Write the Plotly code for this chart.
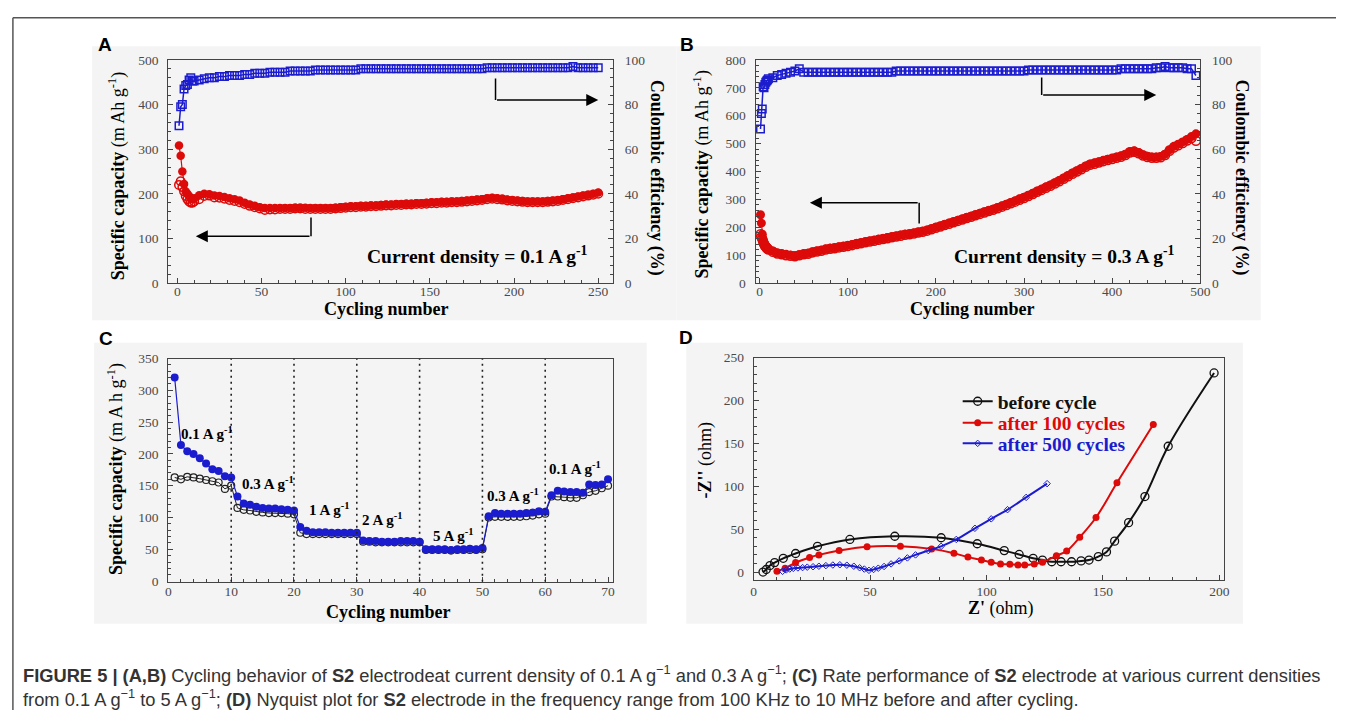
import plotly.graph_objects as go

W, H = 1346, 718
RED = "#dd0a0a"
BLUE = "#1c1ccf"
SERIF = "Liberation Serif"
SANS = "Liberation Sans"

# ---------------- Panel A data (0.1 A/g, 250 cycles) ----------------
redA_dis_first = [308, 285, 250, 222, 205, 200, 195, 190, 188, 190]
redA_cha_first = [220, 228, 215, 205, 195, 188, 183, 180, 180, 183]
ceA_first = [70.5, 79, 80, 87, 88.5, 89, 91, 92, 90.5, 90.5]
redA_dis_rest = [197, 200, 199, 196, 195, 193, 190, 188, 185, 180,
                 176, 173, 170, 168, 168, 168, 168, 168, 168, 169,
                 169, 169, 168, 168, 168, 168, 168, 169, 170, 171,
                 172, 172, 173, 173, 174, 174, 175, 176, 176, 177,
                 177, 178, 178, 179, 179, 180, 181, 181, 182, 182,
                 183, 183, 184, 185, 186, 187, 188, 190, 191, 190,
                 189, 187, 186, 185, 184, 183, 183, 183, 183, 184,
                 185, 186, 188, 190, 192, 194, 196, 198, 200, 203]
redA_cha_rest = [188, 195, 196, 192, 191, 189, 186, 184, 181, 177,
                 173, 170, 167, 164, 165, 165, 166, 166, 166, 167,
                 167, 166, 166, 166, 166, 166, 166, 167, 168, 169,
                 170, 170, 171, 171, 172, 172, 173, 174, 174, 175,
                 175, 176, 176, 177, 177, 178, 179, 179, 180, 180,
                 181, 181, 182, 183, 184, 185, 186, 188, 189, 188,
                 187, 185, 184, 183, 182, 181, 181, 181, 181, 182,
                 183, 184, 186, 188, 190, 192, 194, 196, 198, 200]
ceA_rest = [91, 91.5, 92, 92, 92.5, 92.5, 93, 93, 93, 93.5,
            93.5, 94, 94, 94, 94.5, 94.5, 94.5, 94.5, 95, 95,
            95, 95, 95, 95.5, 95.5, 95.5, 95.5, 95.5, 95.5, 95.5,
            95.5, 95.5, 96, 96, 96, 96, 96, 96, 96, 96,
            96, 96, 96, 96, 96, 96, 96, 96, 96, 96,
            96, 96, 96, 96, 96, 96, 96, 96.5, 96.5, 96.5,
            96.5, 96.5, 96.5, 96.5, 96.5, 96.5, 96.5, 96.5, 96.5, 96.5,
            96.5, 96.5, 96.5, 96.5, 97, 96.5, 96.5, 96.5, 96.5, 96.5]
cycA = list(range(1, 11)) + list(range(13, 13 + 3 * len(redA_dis_rest), 3))

# ---------------- Panel B data (0.3 A/g, 500 cycles) ----------------
redB_dis_first = [245, 215, 175, 155, 145, 138, 133, 128, 125, 122]
redB_cha_first = [175, 165, 158, 148, 140, 134, 130, 126, 123, 120]
ceB_first = [69, 76, 78, 88, 87.5, 89, 90, 90.5, 91, 91.5]
redB_dis_rest = [115, 108, 105, 103, 100, 98, 102, 105, 107, 112,
                 115, 118, 122, 125, 127, 130, 132, 135, 138, 142,
                 145, 148, 151, 154, 157, 160, 163, 166, 169, 172,
                 175, 177, 180, 183, 186, 190, 195, 200, 205, 210,
                 215, 220, 225, 230, 235, 240, 245, 250, 256, 260,
                 265, 271, 277, 283, 289, 295, 302, 308, 315, 322,
                 330, 337, 345, 352, 360, 368, 377, 386, 395, 403,
                 411, 420, 427, 431, 435, 440, 444, 448, 452, 456,
                 462, 472, 474, 468, 460, 455, 452, 452, 454, 462,
                 478, 490, 498, 506, 515, 525, 535]
redB_cha_rest = [112, 106, 103, 100, 98, 96, 100, 103, 105, 110,
                 113, 116, 120, 123, 125, 128, 130, 133, 136, 140,
                 143, 146, 149, 152, 155, 158, 161, 164, 167, 170,
                 173, 175, 178, 181, 184, 188, 193, 198, 203, 208,
                 213, 218, 223, 228, 233, 238, 243, 248, 253, 258,
                 263, 268, 274, 280, 286, 292, 299, 305, 312, 319,
                 327, 334, 342, 349, 357, 365, 374, 383, 392, 400,
                 408, 417, 424, 428, 432, 437, 441, 445, 449, 453,
                 459, 468, 471, 465, 457, 452, 449, 449, 451, 459,
                 474, 486, 494, 502, 511, 520, 510]
ceB_rest = [92, 93, 93.5, 94, 94.5, 95, 96, 94.5, 94.5, 94.5,
            94.5, 94.5, 94.5, 94.5, 94.5, 94.5, 94.5, 94.5, 94.5, 94.5,
            94.5, 94.5, 94.5, 94.5, 94.5, 94.5, 94.5, 94.5, 95, 95,
            95, 95, 95, 95, 95, 95, 95, 95, 95, 95,
            95, 95, 95, 95, 95, 95, 95, 95, 95, 95,
            95, 95, 95, 95, 95, 95, 95, 95, 95.5, 95.5,
            95.5, 95.5, 95.5, 95.5, 95.5, 95.5, 95.5, 95.5, 95.5, 95.5,
            95.5, 95.5, 95.5, 95.5, 95.5, 95.5, 95.5, 95.5, 95.5, 96,
            96, 96, 96, 96, 96, 96, 96, 96.5, 96.5, 97,
            96.5, 96.5, 96.5, 96.5, 96, 96, 93]
cycB = list(range(1, 11)) + list(range(15, 15 + 5 * len(redB_dis_rest), 5))

# ---------------- Panel C data (rate performance) ----------------
cycC = list(range(1, 71))
capC_dis = [320, 214, 204, 200, 193, 185, 176, 173, 165, 163,
            133, 122, 120, 117, 115, 114, 114, 113, 112, 111,
            85, 79, 77, 77, 77, 76, 76, 76, 76, 76,
            64, 63, 63, 62, 62, 62, 63, 63, 63, 62,
            50, 50, 50, 50, 49, 50, 50, 51, 50, 52,
            102, 107, 106, 106, 106, 106, 107, 108, 110, 109,
            135, 142, 141, 140, 140, 139, 152, 151, 152, 160]
capC_cha = [163, 160, 164, 163, 161, 159, 157, 155, 145, 150,
            115, 112, 111, 109, 108, 107, 107, 107, 106, 105,
            76, 74, 74, 74, 74, 74, 74, 74, 74, 74,
            62, 62, 61, 61, 61, 61, 61, 61, 61, 61,
            49, 49, 49, 49, 48, 49, 49, 49, 49, 50,
            100, 101, 101, 101, 101, 101, 102, 103, 105, 106,
            133, 133, 132, 131, 131, 135, 140, 142, 146, 150]
rate_labels = ["0.1 A g<sup>-1</sup>", "0.3 A g<sup>-1</sup>", "1 A g<sup>-1</sup>", "2 A g<sup>-1</sup>",
               "5 A g<sup>-1</sup>", "0.3 A g<sup>-1</sup>", "0.1 A g<sup>-1</sup>"]
rate_label_x = [6.2, 15.9, 25.5, 34.0, 45.3, 54.9, 64.8]
rate_label_y = [233, 155, 113, 97, 73, 135, 178]
rate_bounds = [10, 20, 30, 40, 50, 60]

# ---------------- Panel D data (Nyquist) ----------------
zre_before = [4, 5.4, 7, 9, 12.7, 18, 27.4, 41.3, 60.6, 80.5, 96, 107.6, 114, 120, 124, 128, 132,
              136.5, 140.6, 144, 148, 151.5, 155, 161, 168, 178, 197.7]
zim_before = [0, 3, 7.6, 11, 16, 21.6, 30, 38, 41.7, 40, 33, 25, 20.5, 16, 14, 12, 12,
              12, 13, 14, 18, 23.5, 36, 57.6, 88, 146.6, 232]
zre_100 = [10, 13.5, 18, 24, 28, 36.7, 48.7, 63, 76.4, 86, 92, 97.8, 102, 106, 110, 113.5, 116.4,
           120.5, 124, 130, 134.4, 140, 147, 156, 171.6]
zim_100 = [0.8, 4.5, 11, 17, 20, 25, 29.5, 30, 27, 22, 17.4, 14, 11.4, 9.5, 9, 8.3, 8.3,
           9.5, 11.4, 19, 24.6, 40.5, 63.6, 104, 172]
zre_500 = [12.4, 14, 15.5, 17, 19, 21, 23, 25.5, 28, 31, 34, 37, 40, 43, 45.5, 47.5, 49.5, 51.5,
           53.5, 56, 59, 62.5, 66, 69.5, 75, 80.5, 87, 95, 102, 109, 117, 126]
zim_500 = [0.8, 2.5, 3.5, 4.3, 4.8, 5.2, 5.7, 6.2, 6.8, 7.5, 8.2, 8.5, 8, 6.8, 5, 3.5, 2, 3,
           4.5, 6.5, 9.5, 13, 16.5, 20, 25, 30, 38, 51, 62, 72.7, 87, 103]
legend_names = ["before cycle", "after 100 cycles", "after 500 cycles"]


def fx(p):
    return p / W


def fy(p):
    return 1 - p / H


fig = go.Figure()

# Panel A traces
fig.add_trace(go.Scatter(x=cycA, y=redA_cha_first + redA_cha_rest, mode="lines+markers",
                         line=dict(color=RED, width=1.2),
                         marker=dict(symbol="circle-open", size=8.5, color=RED, line=dict(width=1.5)),
                         xaxis="x", yaxis="y", showlegend=False))
fig.add_trace(go.Scatter(x=cycA, y=redA_dis_first + redA_dis_rest, mode="lines+markers",
                         line=dict(color=RED, width=1.2),
                         marker=dict(symbol="circle", size=8.5, color=RED),
                         xaxis="x", yaxis="y", showlegend=False))
fig.add_trace(go.Scatter(x=cycA, y=ceA_first + ceA_rest, mode="lines+markers",
                         line=dict(color=BLUE, width=1.5),
                         marker=dict(symbol="square-open", size=7.5, color=BLUE, line=dict(width=1.5)),
                         xaxis="x", yaxis="y2", showlegend=False))

# Panel B traces
fig.add_trace(go.Scatter(x=cycB, y=redB_cha_first + redB_cha_rest, mode="lines+markers",
                         line=dict(color=RED, width=1.2),
                         marker=dict(symbol="circle-open", size=9, color=RED, line=dict(width=1.5)),
                         xaxis="x2", yaxis="y3", showlegend=False))
fig.add_trace(go.Scatter(x=cycB, y=redB_dis_first + redB_dis_rest, mode="lines+markers",
                         line=dict(color=RED, width=1.2),
                         marker=dict(symbol="circle", size=9, color=RED),
                         xaxis="x2", yaxis="y3", showlegend=False))
fig.add_trace(go.Scatter(x=cycB, y=ceB_first + ceB_rest, mode="lines+markers",
                         line=dict(color=BLUE, width=1.5),
                         marker=dict(symbol="square-open", size=7.5, color=BLUE, line=dict(width=1.5)),
                         xaxis="x2", yaxis="y4", showlegend=False))

# Panel C traces
fig.add_trace(go.Scatter(x=cycC, y=capC_cha, mode="lines+markers",
                         line=dict(color="#222", width=1),
                         marker=dict(symbol="circle-open", size=7, color="#222", line=dict(width=1.2)),
                         xaxis="x3", yaxis="y5", showlegend=False))
fig.add_trace(go.Scatter(x=cycC, y=capC_dis, mode="lines+markers",
                         line=dict(color=BLUE, width=1.2),
                         marker=dict(symbol="circle", size=8, color=BLUE),
                         xaxis="x3", yaxis="y5", showlegend=False))

# Panel D traces (each in its own legend box for tight row spacing)
fig.add_trace(go.Scatter(x=zre_before, y=zim_before, mode="lines+markers", line_shape="spline",
                         line=dict(color="#111", width=2),
                         marker=dict(symbol="circle-open", size=8, color="#111", line=dict(width=1.3)),
                         xaxis="x4", yaxis="y6", legend="legend",
                         name="<b>" + legend_names[0] + "</b>"))
fig.add_trace(go.Scatter(x=zre_100, y=zim_100, mode="lines+markers", line_shape="spline",
                         line=dict(color=RED, width=2),
                         marker=dict(symbol="circle", size=7, color=RED),
                         xaxis="x4", yaxis="y6", legend="legend2",
                         name="<b><span style='color:" + RED + "'>" + legend_names[1] + "</span></b>"))
fig.add_trace(go.Scatter(x=zre_500, y=zim_500, mode="lines+markers", line_shape="spline",
                         line=dict(color=BLUE, width=2),
                         marker=dict(symbol="diamond-open", size=5, color=BLUE, line=dict(width=1)),
                         xaxis="x4", yaxis="y6", legend="legend3",
                         name="<b><span style='color:" + BLUE + "'>" + legend_names[2] + "</span></b>"))

tickfont = dict(family=SERIF, size=13.5, color="#4a4a4a")


def ax(rng, dtick, minor_dtick, domain, anchor, **kw):
    d = dict(range=rng, dtick=dtick, tick0=0, domain=domain, anchor=anchor,
             showline=True, linecolor="#444", linewidth=1.2, mirror=True,
             ticks="inside", ticklen=5, tickcolor="#444", tickwidth=1,
             minor=dict(ticks="inside", ticklen=3, dtick=minor_dtick, tick0=0, tickcolor="#444"),
             tickfont=tickfont, showgrid=False, zeroline=False)
    d.update(kw)
    return d


domA_x = [fx(167), fx(616)]
domB_x = [fx(760), fx(1209)]
domTop_y = [fy(282), fy(54)]
domC_x = [fx(167), fx(616)]
domD_x = [fx(758), fx(1233)]
domC_y = [fy(587), fy(359)]
domD_y = [fy(585), fy(358)]

fig.update_layout(
    xaxis=ax([-5.3, 258.8], 50, 10, domA_x, "y", ticklabelstandoff=-4),
    yaxis=ax([0, 500], 100, 20, domTop_y, "x", ticklabelstandoff=6),
    yaxis2=ax([0, 100], 20, 4, domTop_y, "x", overlaying="y", side="right", mirror=False,
              ticklabelstandoff=8),
    xaxis2=ax([-4.5, 500], 100, 20, domB_x, "y3", ticklabelstandoff=-4),
    yaxis3=ax([0, 800], 100, 20, domTop_y, "x2", ticklabelstandoff=6),
    yaxis4=ax([0, 100], 20, 4, domTop_y, "x2", overlaying="y3", side="right", mirror=False,
              ticklabelstandoff=8),
    xaxis3=ax([0, 70.8], 10, 2, domC_x, "y5", ticklabelstandoff=-3),
    yaxis5=ax([-1, 350], 50, 10, domC_y, "x3", ticklabelstandoff=6),
    xaxis4=ax([0, 202], 50, 10, domD_x, "y6", ticklabelstandoff=-1),
    yaxis6=ax([-9, 250], 50, 10, domD_y, "x4", ticklabelstandoff=6),
)

shapes = []
# Outer frame (top and left)
shapes.append(dict(type="line", xref="paper", yref="paper", x0=fx(10), x1=1, y0=fy(11), y1=fy(11),
                   line=dict(color="#555", width=1.5)))
shapes.append(dict(type="line", xref="paper", yref="paper", x0=fx(10), x1=fx(10), y0=fy(11), y1=0,
                   line=dict(color="#555", width=1.5)))
# Panel backgrounds
for (x0, y0, x1, y1) in [(90, 40, 680, 320), (680, 40, 1270, 320), (92, 343, 650, 630), (690, 343, 1252, 630)]:
    shapes.append(dict(type="rect", xref="paper", yref="paper", x0=fx(x0), x1=fx(x1), y0=fy(y1), y1=fy(y0),
                       fillcolor="#f4f4f4", line=dict(width=0), layer="below"))
# Dotted separators in panel C
for b in rate_bounds:
    shapes.append(dict(type="line", xref="x3", yref="y5", x0=b, x1=b, y0=-1, y1=350,
                       line=dict(color="#222", width=1.6, dash="2px,4px")))
# Arrow stems (A, B)
shapes.append(dict(type="line", xref="x", yref="y", x0=189, x1=189, y0=458, y1=410, line=dict(color="black", width=1.5)))
shapes.append(dict(type="line", xref="x", yref="y", x0=79.4, x1=79.4, y0=147, y1=105, line=dict(color="black", width=1.5)))
shapes.append(dict(type="line", xref="x2", yref="y3", x0=320, x1=320, y0=737, y1=674, line=dict(color="black", width=1.5)))
shapes.append(dict(type="line", xref="x2", yref="y3", x0=181, x1=181, y0=214, y1=288, line=dict(color="black", width=1.5)))
fig.update_layout(shapes=shapes)

ann = []


def arrow(xr, yr, x0, y0, x1, y1):
    ann.append(dict(xref=xr, yref=yr, axref=xr, ayref=yr, x=x1, y=y1, ax=x0, ay=y0, text="",
                    showarrow=True, arrowhead=2, arrowsize=1.6, arrowwidth=1.5, arrowcolor="black"))


arrow("x", "y", 189, 410, 250, 410)
arrow("x", "y", 79.4, 105, 11, 105)
arrow("x2", "y3", 320, 674, 450, 674)
arrow("x2", "y3", 181, 288, 57, 288)


def txt(x, y, s, size=18, angle=0, family=SERIF, color="black", xanchor="center", xref="paper", yref="paper"):
    ann.append(dict(x=x, y=y, xref=xref, yref=yref, text=s, showarrow=False, textangle=angle,
                    font=dict(family=family, size=size, color=color), xanchor=xanchor, yanchor="middle"))


# Panel letters
for (lx, ly, L) in [(103, 38, "A"), (691, 38, "B"), (104, 339, "C"), (690, 338, "D")]:
    txt(fx(lx), fy(ly), "<b>" + L + "</b>", size=19, family=SANS)

# Axis titles
txt(fx(116), fy(172), "<b>Specific capacity</b> (m Ah g<sup>-1</sup>)", angle=-90)
txt(fx(660), fy(174), "<b>Coulombic efficiency (%)</b>", angle=90)
txt(fx(387), fy(308), "<b>Cycling number</b>")
txt(fx(706), fy(171), "<b>Specific capacity</b> (m Ah g<sup>-1</sup>)", angle=-90)
txt(fx(1251), fy(174), "<b>Coulombic efficiency (%)</b>", angle=90)
txt(fx(979), fy(308), "<b>Cycling number</b>")
txt(fx(114), fy(472), "<b>Specific capacity</b> (m A h g<sup>-1</sup>)", angle=-90)
txt(fx(389), fy(618), "<b>Cycling number</b>")
txt(fx(709), fy(463), "<b>-Z''</b> (ohm)", angle=-90)
txt(fx(1008), fy(614), "<b>Z'</b> (ohm)")

# Current density labels
txt(178, 62, "<b>Current density = 0.1 A g<sup>-1</sup></b>", size=19.5, xref="x", yref="y")
txt(346, 100, "<b>Current density = 0.3 A g<sup>-1</sup></b>", size=19.5, xref="x2", yref="y3")

# Rate labels in C
for lx, ly, s in zip(rate_label_x, rate_label_y, rate_labels):
    txt(lx, ly, "<b>" + s + "</b>", size=15, xref="x3", yref="y5")

# Caption
cap1 = ("<b>FIGURE 5 | (A,B)</b> Cycling behavior of <b>S2</b> electrodeat current density of 0.1 A g<sup>\u22121</sup> "
        "and 0.3 A g<sup>\u22121</sup>; <b>(C)</b> Rate performance of <b>S2</b> electrode at various current densities")
cap2 = ("from 0.1 A g<sup>\u22121</sup> to 5 A g<sup>\u22121</sup>; <b>(D)</b> Nyquist plot for <b>S2</b> electrode in the "
        "frequency range from 100 KHz to 10 MHz before and after cycling.")
txt(fx(18), fy(681), cap1, size=18.3, family=SANS, color="#333", xanchor="left")
txt(fx(18), fy(706), cap2, size=18.3, family=SANS, color="#333", xanchor="left")

leg_common = dict(xanchor="left", yanchor="middle", bgcolor="rgba(0,0,0,0)",
                  font=dict(family=SERIF, size=19.5, color="#111"), itemwidth=30)
fig.update_layout(
    annotations=ann,
    width=W, height=H,
    margin=dict(l=0, r=0, t=0, b=0),
    paper_bgcolor="white", plot_bgcolor="rgba(0,0,0,0)",
    legend=dict(x=fx(964), y=fy(403), **leg_common),
    legend2=dict(x=fx(964), y=fy(425), **leg_common),
    legend3=dict(x=fx(964), y=fy(446), **leg_common),
)

fig.write_html("out.html", config={"displayModeBar": False},
               post_script="document.body.style.margin='0px';document.body.style.overflow='hidden';")
